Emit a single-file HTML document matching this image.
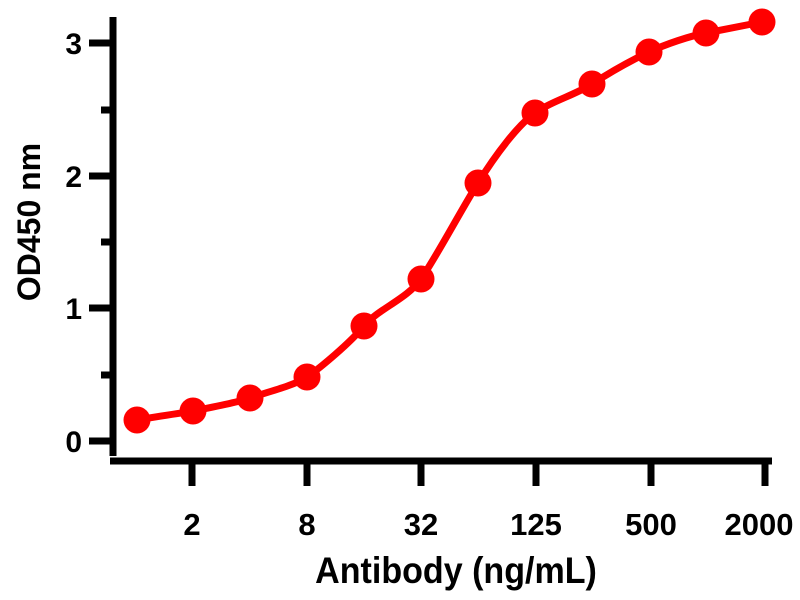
<!DOCTYPE html>
<html><head><style>body{margin:0;background:#fff}svg{display:block}</style></head><body>
<svg width="800" height="600" viewBox="0 0 800 600" xmlns="http://www.w3.org/2000/svg" font-family="Liberation Sans, Arial, sans-serif" font-weight="bold">
<rect width="800" height="600" fill="#fff"/>
<g stroke="#000" stroke-width="7">
<line x1="113" y1="17" x2="113" y2="456"/>
<line x1="110" y1="461" x2="772" y2="461"/>
<line x1="89" y1="43" x2="113" y2="43"/>
<line x1="89" y1="176" x2="113" y2="176"/>
<line x1="89" y1="308" x2="113" y2="308"/>
<line x1="89" y1="441" x2="113" y2="441"/>
<line x1="101" y1="110" x2="113" y2="110"/>
<line x1="101" y1="242" x2="113" y2="242"/>
<line x1="101" y1="375" x2="113" y2="375"/>
<line x1="192" y1="461" x2="192" y2="486"/>
<line x1="307" y1="461" x2="307" y2="486"/>
<line x1="421" y1="461" x2="421" y2="486"/>
<line x1="536" y1="461" x2="536" y2="486"/>
<line x1="651" y1="461" x2="651" y2="486"/>
<line x1="765" y1="461" x2="765" y2="486"/>
</g>
<g font-size="30" text-anchor="end">
<text x="82" y="54">3</text><text x="82" y="187">2</text><text x="82" y="319">1</text><text x="82" y="452">0</text>
</g>
<g font-size="31" text-anchor="middle">
<text x="192" y="535">2</text><text x="307" y="535">8</text><text x="421" y="535">32</text><text x="536" y="535">125</text><text x="651" y="535">500</text><text x="759" y="535">2000</text>
</g>
<text transform="translate(456,583) scale(0.92,1)" font-size="37" text-anchor="middle">Antibody (ng/mL)</text>
<text transform="translate(40,222) rotate(-90)" font-size="32" text-anchor="middle">OD450 nm</text>
<path fill="none" stroke="#f00" stroke-width="7" stroke-linejoin="round" d="M137,420 C146,418 183,413 193,411 C203,409 240,402 250,398 C260,394 294,386 307,377 C320,368 350,343 364,326 C378,309 407,299 421,279 C435,259 460,212 478,183 C496,154 518,125 535,113 C552,101 575,95 592,84 C609,73 632,60 649,52 C666,44 690,36 706,33 C722,30 752,24 762,22"/>
<g fill="#f00">
<circle cx="137" cy="420" r="13.5"/><circle cx="193" cy="411" r="13.5"/><circle cx="250" cy="398" r="13.5"/><circle cx="307" cy="377" r="13.5"/><circle cx="364" cy="326" r="13.5"/><circle cx="421" cy="279" r="13.5"/><circle cx="478" cy="183" r="13.5"/><circle cx="535" cy="113" r="13.5"/><circle cx="592" cy="84" r="13.5"/><circle cx="649" cy="52" r="13.5"/><circle cx="706" cy="33" r="13.5"/><circle cx="762" cy="22" r="13.5"/>
</g>
</svg>
</body></html>
